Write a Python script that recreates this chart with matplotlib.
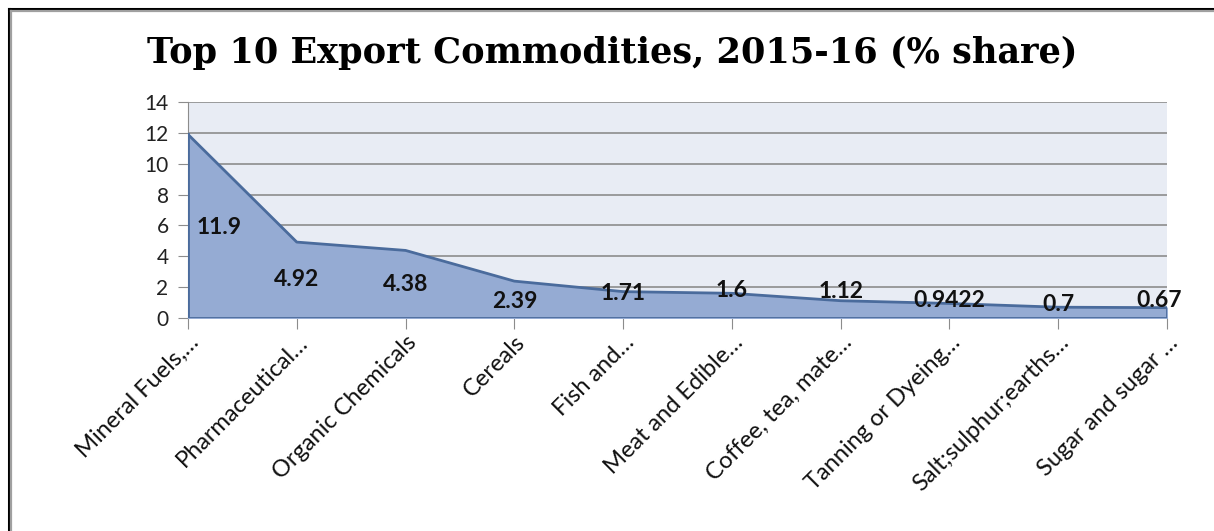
import numpy as np
import matplotlib
matplotlib.use('Agg')
import matplotlib.pyplot as plt
from matplotlib.lines import Line2D

# top 10 export commodities, share of total exports in 2015-16
commodities = ['Mineral Fuels,…', 'Pharmaceutical…', 'Organic Chemicals', 'Cereals',
               'Fish and…', 'Meat and Edible…', 'Coffee, tea, mate…',
               'Tanning or Dyeing…', 'Salt;sulphur;earths…', 'Sugar and sugar …']
share = [11.9, 4.92, 4.38, 2.39, 1.71, 1.6, 1.12, 0.9422, 0.7, 0.67]
share_text = ['11.9', '4.92', '4.38', '2.39', '1.71', '1.6', '1.12', '0.9422', '0.7', '0.67']

# where each data label sits (x nudge in category units, y in data units)
label_dx = [0.29, 0, 0, 0, 0, 0, 0, 0, 0, -0.07]
label_y = [5.85, 2.5, 2.15, 1.05, 1.6, 1.8, 1.7, 1.15, 0.85, 1.15]

W, H = 1214, 531
fig = plt.figure(figsize=(W / 100, H / 100), dpi=100)
fig.patch.set_facecolor('white')

label_font = ['Lato', 'DejaVu Sans']

ax = fig.add_axes([188 / W, 1 - 318 / H, (1167 - 188) / W, (318 - 102) / H])
ax.set_facecolor('#e8ecf4')

x = np.arange(len(share))
ax.fill_between(x, share, 0, color='#95abd3', zorder=2)
ax.plot(x, share, color='#4a6b9c', lw=2, zorder=3)
ax.plot([x[0], x[0]], [0, share[0]], color='#4a6b9c', lw=2, zorder=3)
ax.plot([x[-1], x[-1]], [0, share[-1]], color='#4a6b9c', lw=2, zorder=3)
ax.plot([x[0], x[-1]], [0, 0], color='#4a6b9c', lw=2, zorder=3)

ax.set_xlim(0, len(share) - 1)
ax.set_ylim(0, 14)
ax.set_yticks(np.arange(0, 15, 2))
ax.yaxis.grid(True, color='#8c8c8c', lw=1.2)
ax.set_axisbelow(True)
for side in ['top', 'right', 'bottom']:
    ax.spines[side].set_visible(False)
ax.spines['left'].set_color('#8c8c8c')
ax.spines['left'].set_zorder(1)

ax.set_xticks(x)
ax.set_xticklabels(commodities, rotation=45, ha='right', rotation_mode='anchor',
                   fontsize=17, family=label_font, color='#111111')
ax.tick_params(axis='x', length=8, color='#8c8c8c', pad=2, direction='out')
ax.tick_params(axis='y', length=7, color='#8c8c8c', labelsize=15, pad=7)
for t in ax.get_yticklabels():
    t.set_family(label_font)
    t.set_color('#222222')

for xi, dx, yi, txt in zip(x, label_dx, label_y, share_text):
    ax.text(xi + dx, yi, txt, ha='center', va='center', fontsize=16.5,
            fontweight='bold', family=label_font, color='#111111', zorder=5,
            clip_on=False)

fig.text(612 / W, 1 - 53 / H, 'Top 10 Export Commodities, 2015-16 (% share)',
         ha='center', va='center', fontsize=25.3, fontweight='bold',
         family='DejaVu Serif')

# double frame line round the chart
fig.add_artist(Line2D([8.5 / W, 1], [1 - 8.5 / H] * 2, color='black', lw=2.2,
                      transform=fig.transFigure))
fig.add_artist(Line2D([8.5 / W] * 2, [0, 1 - 8.5 / H], color='black', lw=2.2,
                      transform=fig.transFigure))
fig.add_artist(Line2D([11.3 / W, 1], [1 - 11.3 / H] * 2, color='#a0a0a0', lw=1.6,
                      transform=fig.transFigure))
fig.add_artist(Line2D([11.3 / W] * 2, [0, 1 - 11.3 / H], color='#a0a0a0', lw=1.6,
                      transform=fig.transFigure))

fig.savefig('out.png', dpi=100)
